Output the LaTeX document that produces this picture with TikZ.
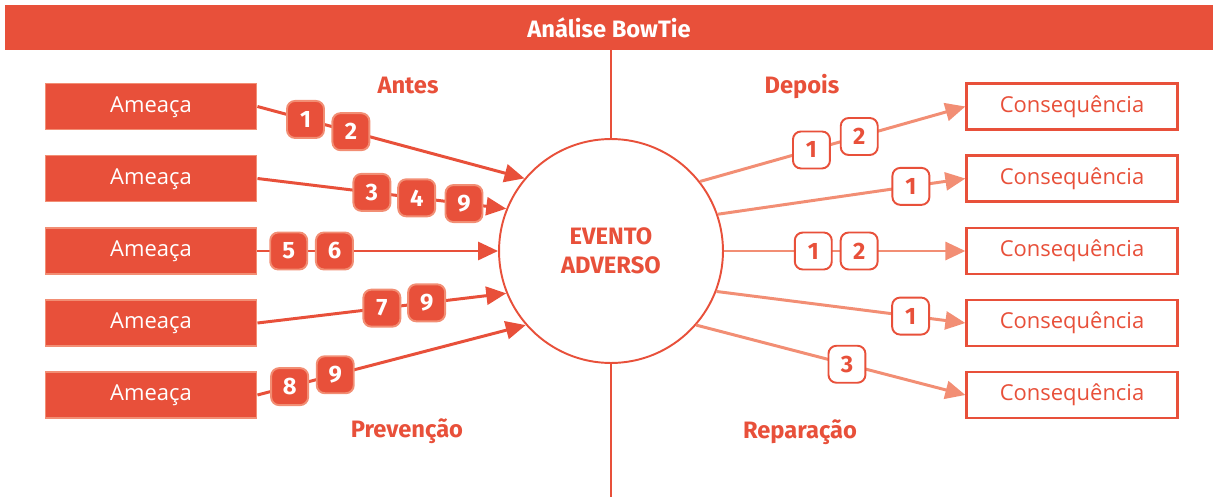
\documentclass[tikz,border=0pt]{standalone}
\usepackage{fontspec}
\setmainfont{Fira Sans}
\newfontfamily\lightFont{Open Sans}
\usetikzlibrary{arrows.meta}
\definecolor{bowRed}{RGB}{232,80,58}
\definecolor{bowSalmon}{RGB}{242,142,116}
\tikzstyle{bowtie} = [x = 0.02cm, y = -0.02cm]
\tikzstyle{headerBar} = [fill=bowRed, text=white, minimum width=24.16cm, minimum height=0.9cm, inner sep=0pt, font=\bfseries\fontsize{13.5}{15}\selectfont]
\tikzstyle{dividerLine} = [color=bowRed, line width=0.9pt]
\tikzstyle{eventCircle} = [circle, draw=bowRed, fill=white, line width=1.1pt, minimum size=4.48cm, align=center, text=bowRed, font=\bfseries\fontsize{13.5}{16.5}\selectfont]
\tikzstyle{boxText} = [font=\lightFont\fontsize{12.5}{15}\selectfont, text height=1.6ex, text depth=0.4ex]
\tikzstyle{threatBox} = [boxText, draw=bowSalmon, fill=bowRed, text=white, line width=1.1pt, minimum width=4.22cm, minimum height=0.92cm]
\tikzstyle{consequenceBox} = [boxText, draw=bowRed, fill=white, text=bowRed, line width=1.3pt, minimum width=4.22cm, minimum height=0.92cm]
\tikzstyle{sectionLabel} = [anchor=base, text=bowRed, inner sep=0pt, font=\bfseries\fontsize{13.5}{15}\selectfont]
\tikzstyle{badgeBase} = [rounded corners=0.16cm, minimum size=0.74cm, inner sep=0pt, line width=1.1pt, font=\bfseries\fontsize{13.5}{15}\selectfont]
\tikzstyle{preventBadge} = [badgeBase, draw=bowSalmon, fill=bowRed, text=white]
\tikzstyle{repairBadge} = [badgeBase, draw=bowRed, fill=white, text=bowRed]
\tikzstyle{preventArrow} = [draw=bowRed, line width=1.7pt, -{Triangle[length=0.4cm, width=0.36cm]}]
\tikzstyle{repairArrow} = [draw=bowSalmon, line width=1.7pt, -{Triangle[length=0.4cm, width=0.36cm]}]

\begin{document}
\begin{tikzpicture}[bowtie]
  \useasboundingbox (0,0) rectangle (1213,497);
  \node[headerBar] (header) at (609,27.5) {Análise BowTie};
  \coordinate (dividerEnd) at (611,497);
  \draw[dividerLine] (header.south -| dividerEnd) -- (dividerEnd);
  \node[eventCircle] (evento) at (611,251) {EVENTO\\ADVERSO};

  \foreach \i/\y in {1/106.5,2/178.5,3/251,4/323,5/395} {
    \node[threatBox] (threat\i) at (151,\y) {Ameaça};
    \node[consequenceBox] (cons\i) at (1072,\y) {Consequência};
  }

  \node[sectionLabel] (antes) at (408,93) {Antes};
  \node[sectionLabel] (depois) at (802,93) {Depois};
  \node[sectionLabel] (prevencao) at (407,437) {Prevenção};
  \node[sectionLabel] (reparacao) at (800,438) {Reparação};

  % lado esquerdo
  \draw[preventArrow] (threat1.east) -- node[preventBadge, pos=.18] {1} node[preventBadge, pos=.35] {2} (evento.140);
  \draw[preventArrow] (threat2.east) -- node[preventBadge, pos=.46] {3} node[preventBadge, pos=.64] {4} node[preventBadge, pos=.83] {9} (evento.158);
  \draw[preventArrow] (threat3.east) -- node[preventBadge, pos=.13] {5} node[preventBadge, pos=.32] {6} (evento.180);
  \draw[preventArrow] (threat4.east) -- node[preventBadge, pos=.50] {7} node[preventBadge, pos=.68] {9} (evento.202);
  \draw[preventArrow] (threat5.east) -- node[preventBadge, pos=.12] {8} node[preventBadge, pos=.29] {9} (evento.221);

  % lado direito
  \draw[repairArrow] (evento.38) -- node[repairBadge, pos=.42] {1} node[repairBadge, pos=.60] {2} (cons1.west);
  \draw[repairArrow] (evento.19) -- node[repairBadge, pos=.78] {1} (cons2.west);
  \draw[repairArrow] (evento.0) -- node[repairBadge, pos=.37] {1} node[repairBadge, pos=.56] {2} (cons3.west);
  \draw[repairArrow] (evento.-21) -- node[repairBadge, pos=.78] {1} (cons4.west);
  \draw[repairArrow] (evento.-41) -- node[repairBadge, pos=.56] {3} (cons5.west);
\end{tikzpicture}
\end{document}
